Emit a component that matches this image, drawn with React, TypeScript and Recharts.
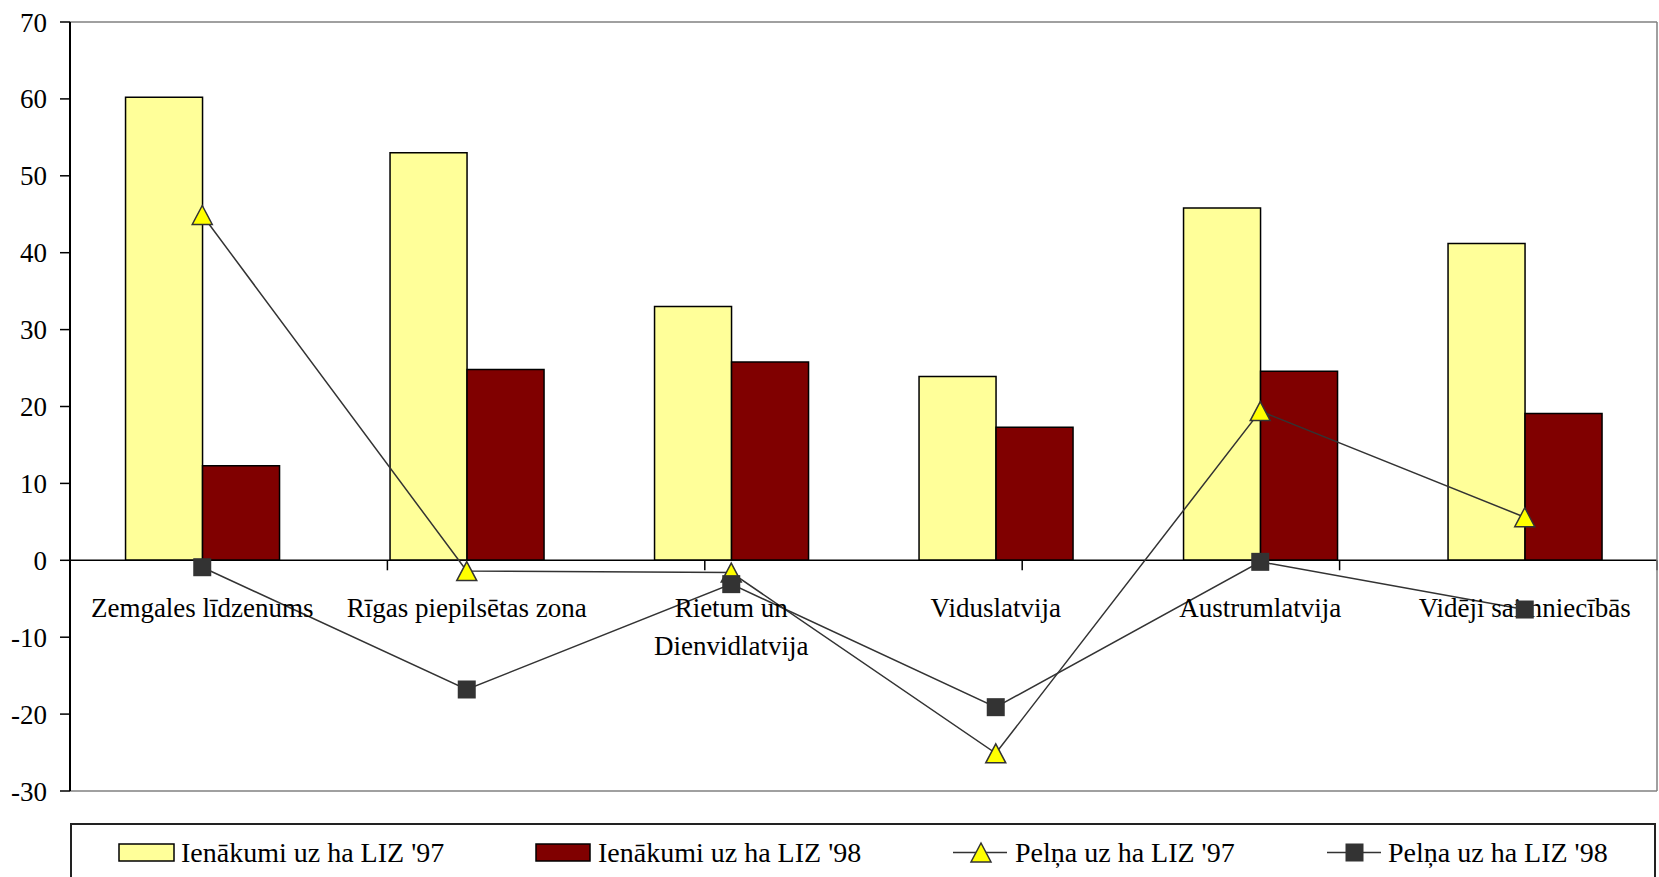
import {
  Bar,
  ComposedChart,
  Line,
  ReferenceDot,
  ReferenceLine,
  XAxis,
  YAxis
} from "recharts";

const categories = [
  "Zemgales līdzenums",
  "Rīgas piepilsētas zona",
  "Rietum un Dienvidlatvija",
  "Viduslatvija",
  "Austrumlatvija",
  "Vidēji saimniecībās"
];
const categoryLines = [
  ["Zemgales līdzenums"],
  ["Rīgas piepilsētas zona"],
  ["Rietum un", "Dienvidlatvija"],
  ["Viduslatvija"],
  ["Austrumlatvija"],
  ["Vidēji saimniecībās"]
];

const income97 = [60.2, 53.0, 33.0, 23.9, 45.8, 41.2];
const income98 = [12.3, 24.8, 25.8, 17.3, 24.6, 19.1];
const profit97 = [44.9, -1.4, -1.6, -25.1, 19.4, 5.6];
const profit98 = [-0.9, -16.8, -3.1, -19.1, -0.2, -6.4];

const yTicks = [-30, -20, -10, 0, 10, 20, 30, 40, 50, 60, 70];
const boundaries = [1, 2, 3, 4, 5];

const seriesNames = [
  "Ienākumi uz ha LIZ '97",
  "Ienākumi uz ha LIZ '98",
  "Pelņa uz ha LIZ '97",
  "Pelņa uz ha LIZ '98"
];

const data = categories.map((name, i) => ({
  name,
  inc97: income97[i],
  inc98: income98[i],
  pr97: profit97[i],
  pr98: profit98[i]
}));

const FONT = '"Liberation Serif", "Times New Roman", Times, "DejaVu Serif", serif';
const LINE = "#333333";

function Triangle(props: any) {
  const { cx, cy, index } = props;
  if (cx == null || cy == null) return <g key={index} />;
  return (
    <path
      key={`t${index}`}
      d={`M${cx},${cy - 9.5} L${cx + 10},${cy + 9.5} L${cx - 10},${cy + 9.5} Z`}
      fill="#ffff00"
      stroke={LINE}
      strokeWidth={1.5}
    />
  );
}

function Square(props: any) {
  const { cx, cy, index } = props;
  if (cx == null || cy == null) return <g key={index} />;
  return <rect key={`s${index}`} x={cx - 9} y={cy - 9} width={18} height={18} fill={LINE} />;
}

function CatLabel({ viewBox, lines }: any) {
  if (!viewBox) return null;
  const x = viewBox.x + (viewBox.width || 0) / 2;
  const y = viewBox.y + (viewBox.height || 0) / 2 + 57;
  return (
    <text x={x} y={y} textAnchor="middle" style={{ fontFamily: FONT }} fontSize={27} fill="#000">
      {lines.map((l: string, i: number) => (
        <tspan key={i} x={x} dy={i === 0 ? 0 : 38}>
          {l}
        </tspan>
      ))}
    </text>
  );
}

function LegendBox() {
  const textStyle = {
    position: "absolute" as const,
    top: 0,
    fontFamily: FONT,
    fontSize: 28,
    lineHeight: "56px",
    color: "#000",
    whiteSpace: "nowrap" as const
  };
  return (
    <div
      style={{
        position: "absolute",
        left: 70,
        top: 823,
        width: 1586,
        height: 70,
        border: "2px solid #222",
        boxSizing: "border-box",
        background: "#fff"
      }}
    >
      <svg width={1586} height={70} style={{ position: "absolute", left: 0, top: 0 }}>
        <rect x={47} y={19} width={55} height={17} fill="#ffff99" stroke="#000" strokeWidth={1.5} />
        <rect x={464} y={19} width={54} height={17} fill="#800000" stroke="#000" strokeWidth={1.5} />
        <line x1={881} x2={935} y1={27.5} y2={27.5} stroke={LINE} strokeWidth={1.5} />
        <path d="M909,18 L919,37 L899,37 Z" fill="#ffff00" stroke={LINE} strokeWidth={1.5} />
        <line x1={1255} x2={1309} y1={27.5} y2={27.5} stroke={LINE} strokeWidth={1.5} />
        <rect x={1273.5} y={18.5} width={18} height={18} fill={LINE} />
      </svg>
      <span style={{ ...textStyle, left: 109 }}>{seriesNames[0]}</span>
      <span style={{ ...textStyle, left: 526 }}>{seriesNames[1]}</span>
      <span style={{ ...textStyle, left: 943 }}>{seriesNames[2]}</span>
      <span style={{ ...textStyle, left: 1316 }}>{seriesNames[3]}</span>
    </div>
  );
}

export default function App() {
  return (
    <div
      style={{
        position: "absolute",
        left: 0,
        top: 0,
        width: 1659,
        height: 877,
        overflow: "hidden",
        background: "#fff",
        fontFamily: FONT
      }}
    >
      <ComposedChart
        width={1659}
        height={877}
        data={data}
        margin={{ top: 22, right: 0, bottom: 86, left: 0 }}
        barCategoryGap="21%"
        barGap={0}
        style={{ fontFamily: FONT }}
      >
        <XAxis dataKey="name" hide />
        <XAxis xAxisId="b" type="number" domain={[0, 6]} allowDataOverflow hide />
        <YAxis
          domain={[-30, 70]}
          ticks={yTicks}
          interval={0}
          width={70}
          tickSize={10}
          tickMargin={13}
          axisLine={{ stroke: "#000", strokeWidth: 2 }}
          tickLine={{ stroke: "#000", strokeWidth: 1.5 }}
          tick={{ fill: "#000", fontSize: 27, style: { fontFamily: FONT } }}
        />
        <YAxis
          yAxisId="r"
          orientation="right"
          width={2}
          tick={false}
          tickLine={false}
          axisLine={{ stroke: "#808080", strokeWidth: 1.5 }}
        />
        <ReferenceLine y={70} stroke="#808080" strokeWidth={1.5} />
        <ReferenceLine y={-30} stroke="#808080" strokeWidth={1.5} />
        {categories.map((c, i) => (
          <ReferenceDot
            key={c}
            x={c}
            y={0}
            r={0}
            fill="none"
            stroke="none"
            label={{ content: (p: any) => <CatLabel viewBox={p.viewBox} lines={categoryLines[i]} /> }}
          />
        ))}
        <Bar dataKey="inc97" name={seriesNames[0]} fill="#ffff99" stroke="#000" strokeWidth={1.5} isAnimationActive={false} />
        <Bar dataKey="inc98" name={seriesNames[1]} fill="#800000" stroke="#000" strokeWidth={1.5} isAnimationActive={false} />
        <ReferenceLine y={0} stroke="#000" strokeWidth={1.5} />
        {boundaries.map((b) => (
          <ReferenceLine
            key={b}
            xAxisId="b"
            segment={[
              { x: b, y: 0 },
              { x: b, y: -1.3 }
            ]}
            stroke="#000"
            strokeWidth={1.5}
          />
        ))}
        <Line
          dataKey="pr97"
          name={seriesNames[2]}
          type="linear"
          stroke={LINE}
          strokeWidth={1.5}
          dot={(p: any) => <Triangle {...p} />}
          activeDot={false}
          isAnimationActive={false}
        />
        <Line
          dataKey="pr98"
          name={seriesNames[3]}
          type="linear"
          stroke={LINE}
          strokeWidth={1.5}
          dot={(p: any) => <Square {...p} />}
          activeDot={false}
          isAnimationActive={false}
        />
      </ComposedChart>
      <LegendBox />
    </div>
  );
}
